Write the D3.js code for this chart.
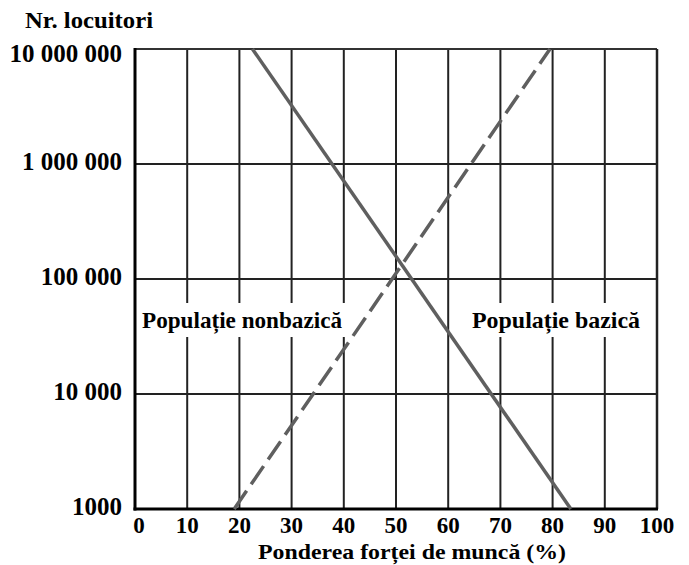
<!DOCTYPE html>
<html><head><meta charset="utf-8">
<script src="https://cdn.jsdelivr.net/npm/d3@7"></script>
<style>body{margin:0;background:#fff}</style>
</head><body>
<script>
const xTicks = [0,10,20,30,40,50,60,70,80,90,100];
const yTicks = [1000,10000,100000,1000000,10000000];
const yTickLabels = ["1000","10 000","100 000","1 000 000","10 000 000"];
const bazicaX = [22.5, 83.5];
const bazicaY = [10000000, 1000];
const nonbazicaX = [19, 79.5];
const nonbazicaY = [1000, 10000000];
const yTitle = "Nr. locuitori";
const xTitle = "Ponderea forței de muncă (%)";
const labelNon = "Populație nonbazică";
const labelBaz = "Populație bazică";

const W=689,H=565;
const m={l:135,r:32,t:49,b:56};
const svg=d3.select("body").append("svg").attr("width",W).attr("height",H);
const x=d3.scaleLinear().domain([0,100]).range([m.l,W-m.r]);
const y=d3.scaleLog().domain([1000,10000000]).range([H-m.b,m.t]);
const font="'Liberation Serif', 'Times New Roman', serif";

// grid
const g=svg.append("g");
g.selectAll(".vg").data(xTicks.slice(1,-1)).join("line")
 .attr("x1",d=>x(d)).attr("x2",d=>x(d)).attr("y1",y(10000000)).attr("y2",y(1000))
 .attr("stroke","#222").attr("stroke-width",2);
g.selectAll(".hg").data(yTicks.slice(1,-1)).join("line")
 .attr("x1",x(0)).attr("x2",x(100)).attr("y1",d=>y(d)).attr("y2",d=>y(d))
 .attr("stroke","#222").attr("stroke-width",2);
// frame
svg.append("line").attr("x1",x(0)).attr("x2",x(100)).attr("y1",y(1e7)).attr("y2",y(1e7)).attr("stroke","#333").attr("stroke-width",2);
svg.append("line").attr("x1",x(100)).attr("x2",x(100)).attr("y1",y(1e7)).attr("y2",y(1000)).attr("stroke","#222").attr("stroke-width",2.5);
svg.append("line").attr("x1",x(0)).attr("x2",x(0)).attr("y1",y(1e7)-1).attr("y2",y(1000)+1.5).attr("stroke","#000").attr("stroke-width",3);
svg.append("line").attr("x1",x(0)-1.5).attr("x2",x(100)+1).attr("y1",y(1000)).attr("y2",y(1000)).attr("stroke","#000").attr("stroke-width",3);

// lines
const line=d3.line().x(d=>x(d[0])).y(d=>y(d[1]));
svg.append("path").datum(bazicaX.map((v,i)=>[v,bazicaY[i]])).attr("d",line)
 .attr("fill","none").attr("stroke","#5f5f5f").attr("stroke-width",3.5);
svg.append("path").datum(nonbazicaX.map((v,i)=>[v,nonbazicaY[i]])).attr("d",line)
 .attr("fill","none").attr("stroke","#5f5f5f").attr("stroke-width",3.5).attr("stroke-dasharray","22,8");

function txt(t,px,py,size,len,anchor){
  const e=svg.append("text").attr("x",px).attr("y",py).attr("font-family",font).attr("font-weight","bold")
   .attr("font-size",size).attr("fill","#000").attr("text-anchor",anchor||"start").text(t);
  if(len) e.attr("textLength",len).attr("lengthAdjust","spacingAndGlyphs");
  return e;
}
// labels with white boxes
function lab(t,px,len){
  svg.append("rect").attr("x",px-5).attr("y",303).attr("width",len+10).attr("height",34).attr("fill","#fff");
  txt(t,px,328,24,len);
}
lab(labelNon,142,200);
lab(labelBaz,472,168);

// y tick labels
svg.selectAll(".yl").data(yTicks).join("text")
 .attr("x",122).attr("y",d=>Math.max(y(d)+6,62)).attr("text-anchor","end")
 .attr("font-family",font).attr("font-weight","bold").attr("font-size",25).text((d,i)=>yTickLabels[i]);
// x tick labels
svg.selectAll(".xl").data(xTicks).join("text")
 .attr("x",d=>x(d)+(d===0?4:0)).attr("y",533).attr("text-anchor","middle")
 .attr("font-family",font).attr("font-weight","bold").attr("font-size",23).text(d=>d);
txt(yTitle,25,28,24,128);
txt(xTitle,258,559,22,308);
</script>
</body></html>
